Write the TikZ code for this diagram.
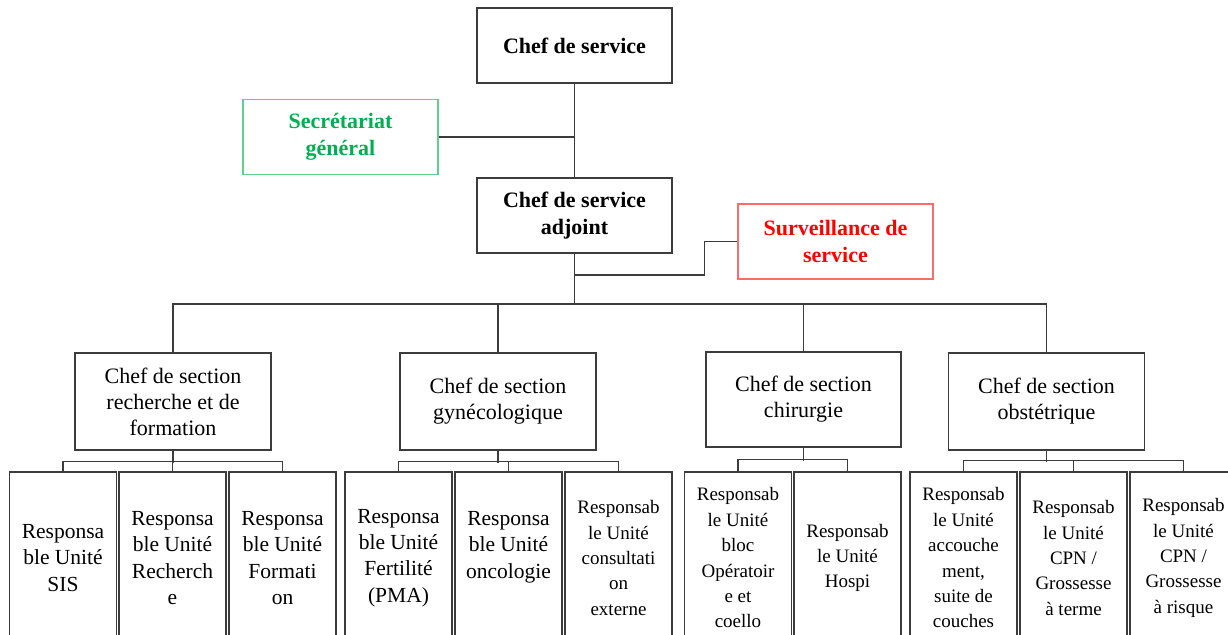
\documentclass[tikz,border=0pt]{standalone}
\usepackage{fontspec}
\setmainfont{Liberation Serif}
\usetikzlibrary{calc}
\definecolor{linie}{HTML}{3C3C3C}
\definecolor{gruen}{HTML}{00B050}
\definecolor{gruenhell}{HTML}{5FD08E}
\definecolor{rot}{HTML}{FF0000}
\definecolor{rothell}{HTML}{FF6B6B}

\begin{document}
\begin{tikzpicture}[x=0.5pt, y=-0.5pt,
    kasten/.style={draw=linie, line width=0.7pt, minimum width=97.5pt, minimum height=37.5pt,
      align=center, inner sep=1pt, font=\bfseries\fontsize{11}{13.5}\selectfont},
    sektion/.style={draw=linie, line width=0.7pt, minimum width=98pt, minimum height=48.5pt,
      align=center, inner sep=1pt, font=\fontsize{11}{13}\selectfont},
    einheit/.style={draw=linie, line width=0.7pt, minimum width=53.5pt, minimum height=86pt,
      align=center, inner sep=1pt, font=\fontsize{10.75}{13.2}\selectfont},
    einheitklein/.style={einheit, font=\fontsize{9.5}{12.7}\selectfont},
    leitung/.style={draw=linie, line width=0.7pt}]
      \useasboundingbox (0,0) rectangle (1228,635);
      \clip (0,0) rectangle (1228,635);

      % Leitung
      \node[kasten] (chef) at (574.5,45.5) {Chef de service};
      \node[kasten, draw=gruenhell, text=gruen] (secr) at (340.5,137) {Secrétariat\\général};
      \node[kasten] (adjoint) at (574.5,215.5) {Chef de service\\adjoint};
      \node[kasten, draw=rothell, text=rot] (surv) at (835.5,241.5) {Surveillance de\\service};

      % Sektionen
      \node[sektion] (rech) at (173,401.5) {Chef de section\\recherche et de\\formation};
      \node[sektion] (gyn) at (498,401.5) {Chef de section\\gynécologique};
      \node[sektion, minimum width=97.5pt, minimum height=47.5pt] (chir) at (803.5,399.5) {Chef de section\\chirurgie};
      \node[sektion] (obst) at (1046.5,401.5) {Chef de section\\obstétrique};

      % Einheiten
      \node[einheit] (sis) at (63,558) {Responsa\\ble Unité\\SIS};
      \node[einheit] (resrech) at (172.5,558) {Responsa\\ble Unité\\Recherch\\e};
      \node[einheit] (form) at (282.5,558) {Responsa\\ble Unité\\Formati\\on};
      \node[einheit] (fert) at (398.5,558) {Responsa\\ble Unité\\Fertilité\\(PMA)};
      \node[einheit] (onco) at (508.5,558) {Responsa\\ble Unité\\oncologie\\\mbox{}};
      \node[einheitklein] (cons) at (618.5,558) {Responsab\\le Unité\\consultati\\on\\externe};
      \node[einheitklein] (bloc) at (738,558) {Responsab\\le Unité\\bloc\\Opératoir\\e et\\coello};
      \node[einheitklein] (hospi) at (847.5,558) {Responsab\\le Unité\\Hospi};
      \node[einheitklein] (accou) at (963.5,558) {Responsab\\le Unité\\accouche\\ment,\\suite de\\couches};
      \node[einheitklein] (terme) at (1073.5,558) {Responsab\\le Unité\\CPN /\\Grossesse\\à terme};
      \node[einheitklein] (risque) at (1183.5,558) {Responsab\\le Unité\\CPN /\\Grossesse\\à risque};

      % Verbindungen oben
      \coordinate (verteiler) at (574.5,304);
      \coordinate (survfuss) at (574.5,275);
      \draw[leitung] (chef.south) -- (adjoint.north);
      \draw[leitung] (secr.east) -- (secr.east -| chef.south);
      \draw[leitung] (adjoint.south) -- (verteiler);
      \draw[leitung] (surv.west) -- ++(-33,0) |- (survfuss);
      \draw[leitung] (rech.north) |- (verteiler) -| (obst.north);
      \draw[leitung] (gyn.north) -- (gyn.north |- verteiler);
      \draw[leitung] (chir.north) -- (chir.north |- verteiler);

      % Verbindungen unten
      \draw[leitung] (rech.south) -- ++(0,12);
      \draw[leitung] (sis.north) -- ++(0,-10) -| (form.north);
      \draw[leitung] (resrech.north) -- ++(0,-10);
      \draw[leitung] (gyn.south) -- ++(0,12);
      \draw[leitung] (fert.north) -- ++(0,-10) -| (cons.north);
      \draw[leitung] (onco.north) -- ++(0,-10);
      \draw[leitung] (chir.south) -- ++(0,13);
      \draw[leitung] (bloc.north) -- ++(0,-12) -| (hospi.north);
      \draw[leitung] (obst.south) -- ++(0,11);
      \draw[leitung] (accou.north) -- ++(0,-11) -| (risque.north);
      \draw[leitung] (terme.north) -- ++(0,-11);
\end{tikzpicture}
\end{document}
